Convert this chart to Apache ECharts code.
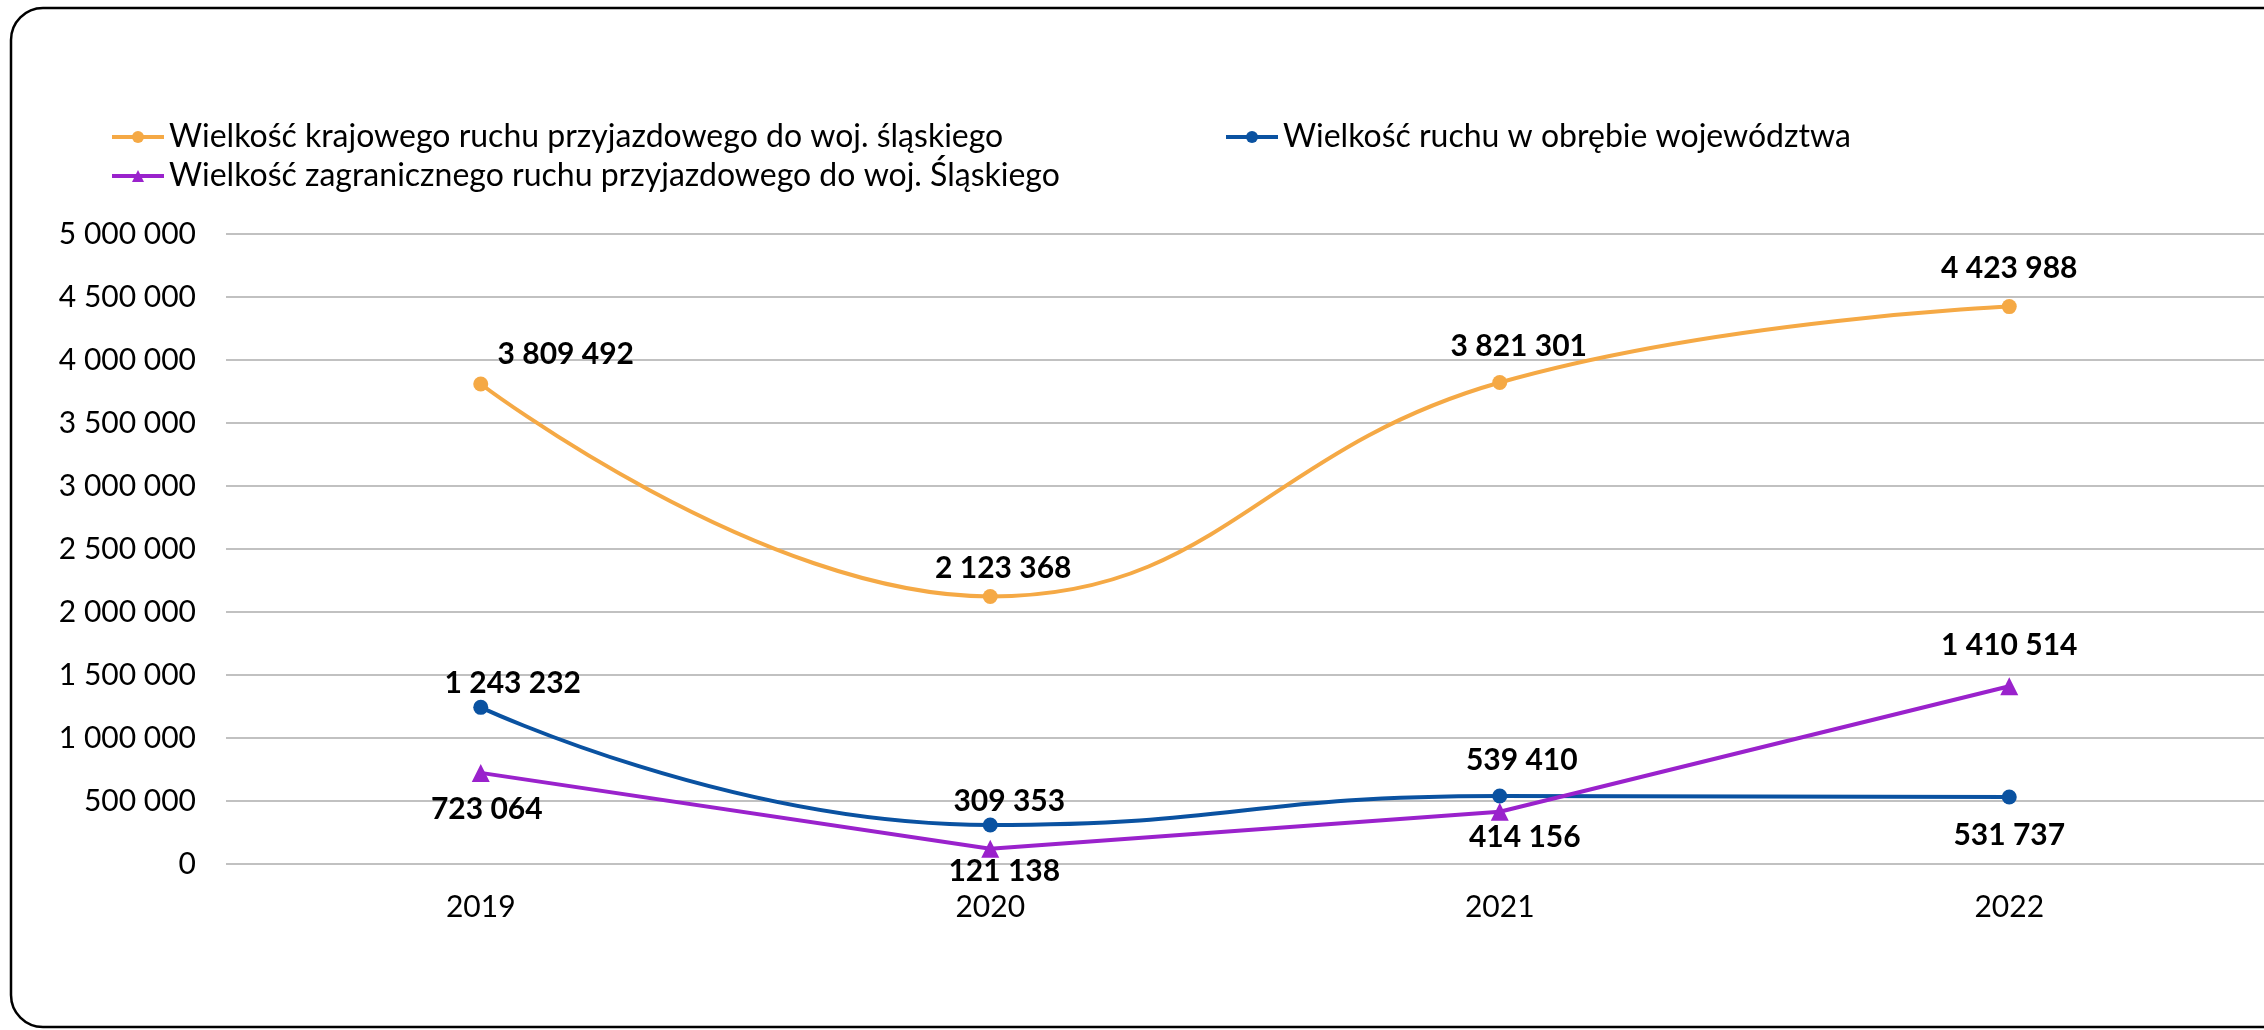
<!DOCTYPE html>
<html>
<head>
<meta charset="utf-8">
<script src="https://cdn.jsdelivr.net/npm/echarts@6/dist/echarts.min.js"></script>
<style>
html,body{margin:0;padding:0;background:#fff;}
#chart{width:2264px;height:1030px;}
</style>
</head>
<body>
<div id="chart"></div>
<script>
const categories = ['2019', '2020', '2021', '2022'];
const seriesNames = [
  'Wielkość krajowego ruchu przyjazdowego do woj. śląskiego',
  'Wielkość ruchu w obrębie województwa',
  'Wielkość zagranicznego ruchu przyjazdowego do woj. Śląskiego'
];
const domesticArrivals = [3809492, 2123368, 3821301, 4423988];
const withinRegion = [1243232, 309353, 539410, 531737];
const foreignArrivals = [723064, 121138, 414156, 1410514];
const yMin = 0, yMax = 5000000, yStep = 500000;

// label placement (styling, not data)
const offDomestic = [[85, -30], [13, -28], [19, -36], [0, -38]];
const offWithin = [[32, -24], [19, -24], [22, -36], [0, 38]];
const offForeign = [[6, 36], [14, 23], [25, 26], [0, -41]];

const FONT = 'Lato';
function fmt(v) {
  return String(v).replace(/\B(?=(\d{3})+(?!\d))/g, ' ');
}
function mkData(vals, offs) {
  return vals.map((v, i) => ({ value: v, label: { offset: offs[i] } }));
}
const labelBase = {
  show: true, position: 'inside', color: '#000', fontFamily: FONT,
  fontSize: 30, fontWeight: 'bold', formatter: p => fmt(p.value)
};

const chart = echarts.init(document.getElementById('chart'), null, { renderer: 'canvas' });
const legendText = { color: '#000', fontFamily: FONT, fontSize: 32, padding: [0, 0, 0, 0] };
const legendCommon = { itemWidth: 52, itemHeight: 15, textStyle: legendText, lineStyle: { width: 4 } };
chart.setOption({
  animation: false,
  backgroundColor: '#fff',
  graphic: [{
    type: 'rect', z: 100, silent: true,
    shape: { x: 11, y: 8, width: 2300, height: 1019, r: 32 },
    style: { fill: 'none', stroke: '#000', lineWidth: 2.5 }
  }],
  legend: [
    Object.assign({ data: [seriesNames[0]], left: 105, top: 116 }, legendCommon),
    Object.assign({ data: [seriesNames[1]], left: 1219, top: 116 }, legendCommon),
    Object.assign({ data: [seriesNames[2]], left: 105, top: 155 }, legendCommon)
  ],
  grid: { left: 226, right: -2, top: 234, bottom: 166, containLabel: false },
  xAxis: {
    type: 'category', data: categories, boundaryGap: true,
    axisLine: { show: false }, axisTick: { show: false },
    axisLabel: { color: '#000', fontFamily: FONT, fontSize: 30, margin: 28 }
  },
  yAxis: {
    type: 'value', min: yMin, max: yMax, interval: yStep,
    axisLine: { show: false }, axisTick: { show: false },
    splitLine: { lineStyle: { color: '#ADADAD', width: 1.5 } },
    axisLabel: { color: '#000', fontFamily: FONT, fontSize: 30, margin: 30, formatter: v => fmt(v) }
  },
  series: [
    {
      name: seriesNames[0], type: 'line', smooth: 0.45,
      data: mkData(domesticArrivals, offDomestic),
      symbol: 'circle', symbolSize: 15,
      itemStyle: { color: '#F5A945' }, lineStyle: { color: '#F5A945', width: 4 },
      label: labelBase
    },
    {
      name: seriesNames[1], type: 'line', smooth: 0.5,
      data: mkData(withinRegion, offWithin),
      symbol: 'circle', symbolSize: 15,
      itemStyle: { color: '#0A52A1' }, lineStyle: { color: '#0A52A1', width: 4 },
      label: labelBase
    },
    {
      name: seriesNames[2], type: 'line', smooth: false,
      data: mkData(foreignArrivals, offForeign),
      symbol: 'triangle', symbolSize: 18,
      itemStyle: { color: '#9A22CC' }, lineStyle: { color: '#9A22CC', width: 4 },
      label: labelBase
    }
  ]
});
</script>
</body>
</html>
